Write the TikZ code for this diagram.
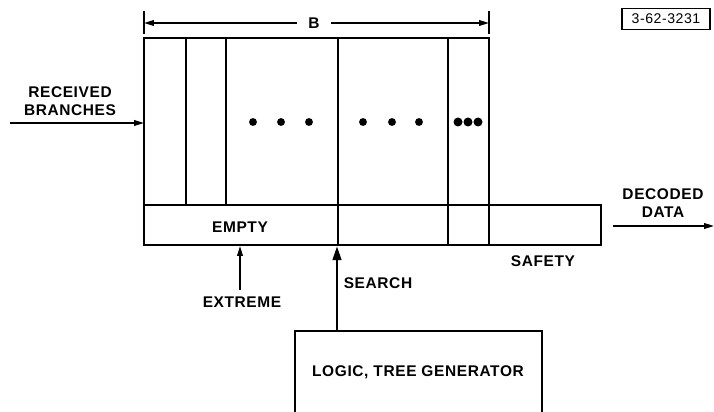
\documentclass[tikz,border=0pt]{standalone}
\usepackage{fontspec}
\newfontfamily\lettering{Liberation Sans}[LetterSpace=4]
\usetikzlibrary{arrows.meta, positioning}

\begin{document}
\begin{tikzpicture}[x=0.025cm, y=-0.025cm,
  wire/.style={line width=1.1pt, black},
  arr/.style={wire, -{Triangle[length=7pt, width=4pt]}},
  bigarr/.style={line width=2pt, -{Triangle[length=10pt, width=6pt]}},
  lbl/.style={font=\lettering\bfseries\fontsize{11}{13}\selectfont, inner sep=1pt, align=center},
  dot/.style={circle, fill=black, inner sep=0pt, minimum size=5.6pt},
  bigdot/.style={dot, minimum size=6.4pt},
]
\useasboundingbox (0,0) rectangle (714,412);
% ====== BUFFER ======
\coordinate (buf_nw) at (144,38);
\coordinate (buf_se) at (489,245);
\draw[wire] (buf_nw) rectangle (buf_se);
\draw[wire] (144,205) -- (601,205) -- (601,245) -- (489,245);
\draw[wire] (186,38) -- (186,205);
\draw[wire] (226,38) -- (226,205);
\draw[wire] (338,38) -- (338,245);
\draw[wire] (448,38) -- (448,245);
\foreach \x in {253,281,309,363,392,419}
  \node[dot] (d\x) at (\x,122) {};
\foreach \x in {458,468,478}
  \node[bigdot] (d\x) at (\x,122) {};
\node[lbl] (empty) at (240,227) {EMPTY};
\node[lbl] (safety) at (543,261) {SAFETY};
%
% ====== WIDTH B ======
\coordinate (dim_l) at (144,23);
\coordinate (dim_r) at (489,23);
\draw[wire] (144,11) -- (144,34);
\draw[wire] (489,11) -- (489,34);
\node[lbl, inner xsep=8pt] (dimB) at (314,23) {B};
\draw[arr] (dimB.west) -- (dim_l);
\draw[arr] (dimB.east) -- (dim_r);
%
% ====== INPUT / OUTPUT ======
\node[lbl] (recv) at (70,101) {RECEIVED\\BRANCHES};
\coordinate (recv_in) at (10,123);
\coordinate (buf_in) at (144,123);
\draw[arr] (recv_in) -- (buf_in);
\node[lbl] (decoded) at (663,203) {DECODED\\DATA};
\coordinate (dec_a) at (613,226);
\coordinate (dec_b) at (714,226);
\draw[arr] (dec_a) -- (dec_b);
%
% ====== POINTERS ======
\node[lbl] (extreme) at (242,302) {EXTREME};
\coordinate (ext_tail) at (240,290);
\coordinate (ext_tip) at (240,246);
\draw[arr] (ext_tail) -- (ext_tip);
\node[lbl] (search) at (378,283) {SEARCH};
\draw[wire] (295,412) -- (295,331) -- (542,331) -- (542,412);
\node[lbl] (logic) at (418,372) {LOGIC, TREE GENERATOR};
\coordinate (logic_top) at (337,331);
\coordinate (search_tip) at (337,246);
\draw[bigarr] (logic_top) -- (search_tip);
%
% ====== FIGURE NUMBER ======
\node[draw, line width=0.9pt, font=\lettering\fontsize{10}{11}\selectfont,
  minimum width=2.2cm, minimum height=0.52cm, inner sep=0pt] (fig_id) at (666,19) {3-62-3231};
\end{tikzpicture}
\end{document}
